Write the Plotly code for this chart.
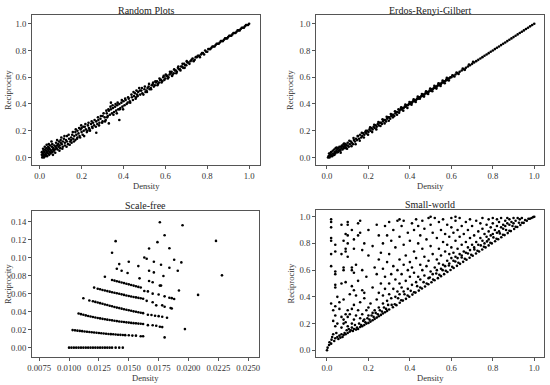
import plotly.graph_objects as go

# ---------------- data ----------------
random_pts = [
    (0.01,0.02),(0.01,0.04),(0.012,0.0),(0.015,0.03),(0.015,0.01),(0.018,0.05),(0.02,0.02),(0.02,0.0),
    (0.022,0.04),(0.025,0.06),(0.025,0.01),(0.028,0.03),(0.03,0.05),(0.03,0.02),(0.032,0.07),(0.035,0.04),
    (0.035,0.01),(0.038,0.06),(0.04,0.03),(0.04,0.08),(0.042,0.05),(0.045,0.02),(0.045,0.07),(0.048,0.04),
    (0.05,0.09),(0.05,0.06),(0.052,0.03),(0.055,0.05),(0.058,0.08),(0.06,0.04),(0.06,0.1),(0.062,0.06),
    (0.065,0.07),(0.068,0.05),(0.07,0.09),(0.072,0.06),(0.075,0.08),(0.078,0.11),(0.08,0.07),(0.082,0.09),
    (0.085,0.06),(0.088,0.1),(0.09,0.08),(0.092,0.12),(0.095,0.09),(0.098,0.07),(0.1,0.11),(0.1,0.13),
    (0.105,0.1),(0.11,0.08),(0.11,0.12),(0.115,0.14),(0.12,0.11),(0.12,0.09),(0.125,0.13),(0.13,0.12),
    (0.13,0.16),(0.135,0.1),(0.14,0.14),(0.145,0.12),(0.15,0.15),(0.15,0.13),(0.155,0.17),(0.16,0.14),
    (0.165,0.16),(0.17,0.13),(0.17,0.19),(0.175,0.17),(0.18,0.15),(0.18,0.2),(0.185,0.18),(0.19,0.16),
    (0.195,0.21),(0.2,0.19),(0.2,0.22),(0.205,0.17),(0.21,0.2),(0.215,0.23),(0.22,0.21),(0.225,0.19),
    (0.23,0.24),(0.235,0.22),(0.24,0.2),(0.245,0.25),(0.25,0.23),(0.255,0.26),(0.26,0.24),(0.27,0.185),
    (0.27,0.27),(0.275,0.25),(0.28,0.28),(0.285,0.26),(0.29,0.29),(0.3,0.27),(0.3,0.31),(0.31,0.3),
    (0.315,0.28),(0.32,0.33),(0.325,0.31),(0.33,0.255),(0.33,0.35),(0.335,0.32),(0.34,0.41),(0.34,0.36),
    (0.345,0.33),(0.35,0.37),(0.355,0.34),(0.36,0.38),(0.365,0.35),(0.37,0.39),(0.375,0.36),(0.38,0.28),
    (0.38,0.4),(0.385,0.37),(0.39,0.41),(0.395,0.38),(0.4,0.42),(0.405,0.39),(0.41,0.43),(0.42,0.41),
    (0.425,0.44),(0.43,0.42),(0.44,0.45),(0.445,0.43),(0.45,0.46),(0.455,0.48),(0.46,0.45),(0.465,0.47),
    (0.47,0.49),(0.475,0.52),(0.48,0.47),(0.485,0.5),(0.49,0.48),(0.5,0.51),(0.505,0.49),(0.51,0.5),
    (0.515,0.52),(0.52,0.53),(0.525,0.51),(0.53,0.52),(0.535,0.54),(0.54,0.55),(0.545,0.53),(0.55,0.54),
    (0.555,0.56),(0.56,0.57),(0.565,0.55),(0.57,0.56),(0.575,0.58),(0.58,0.58),(0.585,0.57),(0.59,0.6),
    (0.595,0.58),(0.6,0.59),(0.605,0.61),(0.61,0.61),(0.615,0.6),(0.62,0.62),(0.625,0.63),(0.63,0.64),
    (0.635,0.62),(0.64,0.63),(0.645,0.65),(0.65,0.65),(0.655,0.64),(0.66,0.67),(0.665,0.66),(0.67,0.66),
    (0.675,0.68),(0.68,0.68),(0.685,0.67),(0.69,0.7),(0.695,0.69),(0.7,0.69),(0.705,0.71),(0.71,0.71),
    (0.715,0.7),(0.72,0.72),(0.725,0.73),(0.73,0.74),(0.735,0.72),(0.74,0.73),(0.745,0.75),(0.75,0.75),
    (0.755,0.76),(0.76,0.76),(0.765,0.75),(0.77,0.77),(0.775,0.78),(0.78,0.78),(0.785,0.77),(0.79,0.8),
    (0.795,0.79),(0.8,0.79),(0.805,0.81),(0.81,0.81),(0.815,0.81),(0.82,0.82),(0.825,0.83),(0.83,0.83),
    (0.835,0.83),(0.84,0.84),(0.845,0.85),(0.85,0.85),(0.855,0.85),(0.86,0.86),(0.865,0.87),(0.87,0.87),
    (0.875,0.87),(0.88,0.88),(0.885,0.89),(0.89,0.89),(0.895,0.89),(0.9,0.9),(0.905,0.91),(0.91,0.91),
    (0.915,0.91),(0.92,0.92),(0.925,0.93),(0.93,0.93),(0.935,0.93),(0.94,0.94),(0.945,0.95),(0.95,0.95),
    (0.955,0.95),(0.96,0.96),(0.965,0.97),(0.97,0.97),(0.975,0.97),(0.98,0.98),(0.985,0.99),(0.99,0.99),
    (0.995,0.99),(1.0,1.0),
    # extra scatter around the line
    (0.016,0.065),(0.024,0.08),(0.033,0.095),(0.043,0.1),(0.056,0.12),(0.063,0.02),(0.074,0.035),
    (0.083,0.13),(0.094,0.05),(0.103,0.15),(0.108,0.065),(0.118,0.16),(0.128,0.08),(0.138,0.17),
    (0.143,0.095),(0.152,0.11),(0.158,0.19),(0.163,0.12),(0.172,0.21),(0.178,0.14),(0.188,0.22),
    (0.193,0.15),(0.198,0.24),(0.208,0.23),(0.212,0.16),(0.218,0.25),(0.228,0.2),(0.233,0.26),
    (0.238,0.21),(0.248,0.27),(0.252,0.22),(0.262,0.28),(0.268,0.23),(0.278,0.3),(0.283,0.24),
    (0.292,0.31),(0.298,0.26),(0.305,0.33),(0.312,0.27),(0.318,0.35),(0.322,0.3),(0.328,0.36),
    (0.338,0.38),(0.348,0.39),(0.352,0.32),(0.362,0.4),(0.368,0.33),(0.372,0.41),(0.382,0.36),
    (0.392,0.43),(0.398,0.36),(0.408,0.44),(0.415,0.4),(0.422,0.45),(0.432,0.41),(0.438,0.47),
    (0.448,0.49),(0.458,0.44),(0.462,0.5),(0.468,0.46),(0.478,0.5),(0.488,0.52),(0.495,0.47),
    (0.502,0.53),(0.512,0.49),(0.522,0.55),(0.532,0.51),(0.542,0.56),(0.552,0.57),(0.562,0.54),
    (0.572,0.59),(0.582,0.56),(0.592,0.61),(0.602,0.62),(0.612,0.59),(0.622,0.64),(0.632,0.61),
    (0.642,0.66),(0.652,0.63),(0.662,0.68),(0.672,0.65),(0.682,0.7),(0.692,0.67),(0.702,0.72),
]

erg_pts = [
    (0.005,0.0),(0.008,0.01),(0.01,0.03),(0.012,0.0),(0.015,0.02),(0.018,0.01),(0.02,0.04),(0.022,0.02),
    (0.025,0.01),(0.028,0.05),(0.03,0.03),(0.032,0.02),(0.035,0.06),(0.038,0.04),(0.04,0.03),(0.042,0.07),
    (0.045,0.05),(0.048,0.04),(0.05,0.06),(0.052,0.04),(0.055,0.07),(0.058,0.05),(0.06,0.08),(0.062,0.06),
    (0.065,0.05),(0.068,0.08),(0.07,0.07),(0.072,0.09),(0.075,0.06),(0.078,0.08),(0.08,0.1),(0.082,0.07),
    (0.085,0.09),(0.088,0.08),(0.09,0.1),(0.092,0.07),(0.095,0.09),(0.1,0.11),(0.1,0.09),(0.105,0.08),
    (0.11,0.1),(0.115,0.12),(0.12,0.11),(0.125,0.1),(0.13,0.13),(0.135,0.12),(0.14,0.14),(0.145,0.13),
    (0.15,0.16),(0.155,0.14),(0.16,0.17),(0.165,0.15),(0.17,0.16),(0.175,0.18),(0.18,0.17),(0.185,0.19),
    (0.19,0.18),(0.195,0.2),(0.2,0.19),(0.205,0.21),(0.21,0.2),(0.215,0.22),(0.22,0.21),(0.225,0.23),
    (0.23,0.22),(0.235,0.24),(0.24,0.23),(0.245,0.25),(0.25,0.24),(0.255,0.26),(0.26,0.26),(0.265,0.25),
    (0.27,0.27),(0.275,0.28),(0.28,0.28),(0.285,0.27),(0.29,0.29),(0.295,0.3),(0.3,0.3),(0.305,0.29),
    (0.31,0.31),(0.315,0.32),(0.32,0.32),(0.325,0.31),(0.33,0.33),(0.335,0.34),(0.34,0.34),(0.345,0.36),
    (0.35,0.35),(0.355,0.36),(0.36,0.36),(0.365,0.37),(0.37,0.37),(0.375,0.38),(0.38,0.38),(0.385,0.39),
    (0.39,0.39),(0.395,0.4),(0.4,0.4),(0.405,0.41),(0.41,0.41),(0.415,0.42),(0.42,0.42),(0.425,0.43),
    (0.43,0.43),(0.435,0.44),(0.44,0.44),(0.445,0.45),(0.45,0.45),(0.455,0.46),(0.46,0.46),(0.465,0.47),
    (0.47,0.47),(0.475,0.48),(0.48,0.48),(0.485,0.49),(0.49,0.49),(0.495,0.5),(0.5,0.5),(0.505,0.51),
    (0.51,0.51),(0.515,0.52),(0.52,0.52),(0.525,0.53),(0.53,0.53),(0.535,0.54),(0.54,0.54),(0.545,0.55),
    (0.55,0.55),(0.555,0.56),(0.56,0.56),(0.565,0.57),(0.57,0.57),(0.575,0.58),(0.58,0.58),(0.585,0.59),
    (0.59,0.59),(0.595,0.6),(0.6,0.6),(0.61,0.61),(0.62,0.62),(0.63,0.63),(0.64,0.64),(0.65,0.65),
    (0.66,0.66),(0.67,0.67),(0.68,0.68),(0.69,0.69),(0.7,0.7),(0.71,0.71),(0.72,0.72),(0.73,0.73),
    (0.74,0.74),(0.75,0.75),(0.76,0.76),(0.77,0.77),(0.78,0.78),(0.79,0.79),(0.8,0.8),(0.81,0.81),
    (0.82,0.82),(0.83,0.83),(0.84,0.84),(0.85,0.85),(0.86,0.86),(0.87,0.87),(0.88,0.88),(0.89,0.89),
    (0.9,0.9),(0.91,0.91),(0.92,0.92),(0.93,0.93),(0.94,0.94),(0.95,0.95),(0.96,0.96),(0.97,0.97),
    (0.98,0.98),(0.99,0.99),(1.0,1.0),
    # extra scatter around the line
    (0.018,0.035),(0.036,0.02),(0.047,0.075),(0.066,0.035),(0.083,0.105),(0.097,0.065),(0.108,0.125),
    (0.118,0.085),(0.128,0.145),(0.138,0.1),(0.148,0.16),(0.158,0.125),(0.168,0.185),(0.178,0.15),
    (0.188,0.2),(0.198,0.17),(0.208,0.225),(0.218,0.19),(0.228,0.245),(0.238,0.21),(0.248,0.265),
    (0.258,0.235),(0.268,0.285),(0.278,0.255),(0.288,0.305),(0.298,0.275),(0.308,0.325),(0.318,0.3),
    (0.328,0.345),(0.338,0.32),(0.348,0.335),(0.358,0.375),(0.368,0.35),(0.378,0.395),(0.388,0.37),
    (0.398,0.415),(0.408,0.395),(0.418,0.435),(0.428,0.415),(0.438,0.455),(0.448,0.44),(0.458,0.475),
    (0.468,0.455),(0.478,0.495),(0.488,0.475),(0.498,0.515),(0.508,0.495),(0.518,0.535),(0.528,0.515),
    (0.538,0.555),(0.548,0.535),(0.558,0.575),(0.568,0.555),(0.578,0.595),(0.588,0.575),(0.605,0.615),
    (0.615,0.605),(0.625,0.635),(0.635,0.625),(0.655,0.665),(0.665,0.655),(0.685,0.695),(0.705,0.715),
]

sf_pts = [
    # band at zero reciprocity
    (0.0100,0.0),(0.0102,0.0),(0.0104,0.0),(0.0106,0.0),(0.0108,0.0),(0.0110,0.0),(0.0112,0.0),(0.0114,0.0),
    (0.0116,0.0),(0.0118,0.0),(0.0120,0.0),(0.0122,0.0),(0.0124,0.0),(0.0126,0.0),(0.0128,0.0),(0.0130,0.0),
    (0.0132,0.0),(0.0134,0.0),(0.0136,0.0),(0.0139,0.0),(0.0142,0.0),(0.0145,0.0),
    # band near 0.02
    (0.0103,0.0195),(0.0105,0.0192),(0.0107,0.0189),(0.0109,0.0186),(0.0111,0.0183),(0.0113,0.0180),
    (0.0115,0.0177),(0.0117,0.0174),(0.0119,0.0171),(0.0121,0.0168),(0.0123,0.0165),(0.0125,0.0162),
    (0.0127,0.0160),(0.0129,0.0157),(0.0131,0.0155),(0.0133,0.0152),(0.0135,0.0150),(0.0137,0.0148),
    (0.0139,0.0146),(0.0141,0.0144),(0.0143,0.0142),(0.0145,0.0140),(0.0147,0.0139),(0.0150,0.0137),
    (0.0153,0.0134),(0.0156,0.0133),(0.0160,0.0127),(0.0162,0.0127),
    # band near 0.038
    (0.0108,0.0379),(0.0110,0.0372),(0.0112,0.0365),(0.0114,0.0358),(0.0116,0.0352),(0.0118,0.0346),
    (0.0120,0.0340),(0.0122,0.0335),(0.0124,0.0330),(0.0126,0.0325),(0.0128,0.0320),(0.0130,0.0315),
    (0.0132,0.0311),(0.0134,0.0307),(0.0136,0.0303),(0.0138,0.0299),(0.0140,0.0295),(0.0142,0.0291),
    (0.0144,0.0288),(0.0146,0.0285),(0.0148,0.0281),(0.0150,0.0278),(0.0152,0.0275),(0.0154,0.0272),
    (0.0156,0.0270),(0.0158,0.0267),(0.0160,0.0265),(0.0162,0.0262),(0.0166,0.0250),(0.0170,0.0248),
    (0.0173,0.0243),(0.0176,0.0232),(0.0178,0.0228),
    # band near 0.052
    (0.0112,0.0549),(0.0117,0.0523),(0.0120,0.0515),(0.0122,0.0508),(0.0124,0.0501),(0.0126,0.0494),
    (0.0128,0.0487),(0.0130,0.0480),(0.0132,0.0473),(0.0134,0.0466),(0.0136,0.0459),(0.0138,0.0452),
    (0.0140,0.0445),(0.0142,0.0439),(0.0144,0.0433),(0.0146,0.0427),(0.0148,0.0421),(0.0150,0.0415),
    (0.0152,0.0409),(0.0154,0.0403),(0.0156,0.0398),(0.0158,0.0393),(0.0160,0.0388),(0.0162,0.0383),
    (0.0166,0.0365),(0.0169,0.0362),(0.0172,0.0355),(0.0175,0.0350),(0.0178,0.0343),(0.0182,0.0332),
    # band near 0.066
    (0.0121,0.0667),(0.0124,0.0655),(0.0126,0.0648),(0.0128,0.0641),(0.0130,0.0634),(0.0132,0.0628),
    (0.0134,0.0622),(0.0136,0.0616),(0.0138,0.0610),(0.0140,0.0604),(0.0142,0.0598),(0.0144,0.0592),
    (0.0146,0.0586),(0.0148,0.0580),(0.0150,0.0574),(0.0152,0.0568),(0.0154,0.0563),(0.0156,0.0558),
    (0.0158,0.0553),(0.0160,0.0548),(0.0162,0.0543),(0.0165,0.0520),(0.0170,0.0505),(0.0173,0.0470),
    (0.0178,0.0470),(0.0180,0.0455),(0.0185,0.0440),(0.0186,0.0435),
    # band near 0.075
    (0.0136,0.0752),(0.0138,0.0745),(0.0140,0.0738),(0.0142,0.0731),(0.0144,0.0724),(0.0146,0.0717),
    (0.0148,0.0710),(0.0150,0.0703),(0.0152,0.0696),(0.0154,0.0689),(0.0156,0.0682),(0.0158,0.0675),
    (0.0160,0.0668),(0.0163,0.0630),(0.0166,0.0625),(0.0170,0.0600),(0.0175,0.0590),(0.0180,0.0570),
    (0.0184,0.0555),(0.0186,0.0550),(0.0188,0.0540),
    # scattered points
    (0.0176,0.1393),(0.0195,0.1359),(0.0180,0.1249),(0.0139,0.1183),(0.0223,0.1186),(0.0174,0.1172),
    (0.0184,0.1105),(0.0167,0.1102),(0.0136,0.1054),(0.0188,0.0976),(0.0163,0.1002),(0.0165,0.0987),
    (0.0150,0.0954),(0.0171,0.0954),(0.0194,0.0947),(0.0142,0.0928),(0.0158,0.0906),(0.0177,0.0921),
    (0.0140,0.0877),(0.0144,0.0855),(0.0149,0.0829),(0.0167,0.0855),(0.0171,0.0836),(0.0184,0.0888),
    (0.0191,0.0855),(0.0228,0.0803),(0.0130,0.0788),(0.0159,0.0770),(0.0167,0.0741),(0.0170,0.0726),
    (0.0179,0.0796),(0.0176,0.0689),(0.0177,0.0689),(0.0192,0.0634),(0.0208,0.0586),(0.0197,0.0206),
    (0.0180,0.0114),
]

# small-world: points hugging the diagonal lower edge
sw_edge_pts = [
    (0.0,0.0),(0.003,0.02),(0.01,0.04),(0.012,0.06),(0.02,0.05),(0.022,0.08),(0.025,0.1),(0.03,0.12),
    (0.035,0.07),(0.04,0.09),(0.045,0.13),(0.05,0.1),(0.055,0.085),(0.06,0.11),(0.065,0.095),(0.07,0.12),
    (0.075,0.1),(0.08,0.115),(0.085,0.13),(0.09,0.12),(0.095,0.15),(0.1,0.13),(0.105,0.16),(0.11,0.14),
    (0.115,0.15),(0.12,0.17),(0.125,0.145),(0.13,0.16),(0.135,0.19),(0.14,0.155),(0.145,0.17),(0.15,0.16),
    (0.155,0.2),(0.16,0.175),(0.165,0.19),(0.17,0.18),(0.175,0.22),(0.18,0.19),(0.185,0.21),(0.19,0.2),
    (0.195,0.24),(0.2,0.205),(0.205,0.23),(0.21,0.215),(0.215,0.26),(0.22,0.225),(0.225,0.25),(0.23,0.235),
    (0.235,0.28),(0.24,0.245),(0.245,0.27),(0.25,0.255),(0.255,0.3),(0.26,0.265),(0.265,0.29),(0.27,0.275),
    (0.275,0.32),(0.28,0.285),(0.285,0.31),(0.29,0.295),(0.295,0.34),
    (0.3,0.305),(0.312,0.34),(0.318,0.322),(0.327,0.345),(0.335,0.338),(0.343,0.39),(0.351,0.356),
    (0.358,0.375),(0.366,0.372),(0.374,0.42),(0.381,0.385),(0.389,0.41),(0.397,0.401),(0.404,0.445),
    (0.412,0.417),(0.42,0.435),(0.427,0.432),(0.435,0.48),(0.443,0.447),(0.45,0.47),(0.458,0.463),
    (0.466,0.51),(0.473,0.478),(0.481,0.5),(0.489,0.494),(0.496,0.545),(0.504,0.509),(0.512,0.53),
    (0.519,0.524),(0.527,0.575),(0.535,0.54),(0.542,0.565),(0.55,0.555),(0.558,0.6),(0.565,0.57),
    (0.573,0.595),(0.581,0.586),(0.588,0.635),(0.596,0.601),(0.604,0.625),(0.611,0.616),(0.619,0.665),
    (0.627,0.632),(0.634,0.655),(0.642,0.647),(0.65,0.695),(0.657,0.662),(0.665,0.685),(0.673,0.678),
    (0.68,0.725),(0.688,0.693),(0.696,0.715),(0.703,0.708),(0.711,0.755),(0.719,0.724),(0.726,0.745),
    (0.734,0.739),(0.742,0.785),(0.749,0.754),(0.757,0.775),(0.765,0.77),(0.772,0.815),(0.78,0.785),
    (0.788,0.805),(0.795,0.8),(0.803,0.845),(0.811,0.816),(0.818,0.835),(0.826,0.831),(0.834,0.875),
    (0.841,0.846),(0.849,0.865),(0.857,0.862),(0.864,0.9),(0.872,0.877),(0.88,0.895),(0.887,0.892),
    (0.895,0.93),(0.903,0.908),(0.91,0.925),(0.918,0.923),(0.926,0.955),(0.933,0.938),(0.941,0.955),
    (0.949,0.954),(0.956,0.975),(0.964,0.969),(0.972,0.985),(0.979,0.984),(0.987,0.99),(0.995,0.997),
    (1.0,1.0),
]

# small-world: points scattered above the diagonal
sw_upper_pts = [
    (0.02,0.35),(0.02,0.63),(0.02,0.72),(0.02,0.82),(0.02,0.84),(0.02,0.92),(0.02,0.96),(0.02,0.98),
    (0.03,0.22),(0.03,0.3),(0.04,0.18),(0.04,0.26),(0.04,0.33),(0.04,0.47),(0.04,0.49),(0.04,0.57),
    (0.04,0.59),(0.04,0.74),(0.04,0.79),(0.05,0.2),(0.05,0.4),(0.06,0.31),(0.06,0.36),(0.07,0.17),
    (0.07,0.25),(0.07,0.5),(0.07,0.72),(0.07,0.94),(0.08,0.2),(0.08,0.23),(0.08,0.38),(0.08,0.6),
    (0.08,0.62),(0.08,0.82),(0.09,0.21),(0.09,0.27),(0.09,0.51),(0.09,0.74),(0.09,0.76),(0.09,0.87),
    (0.1,0.18),(0.1,0.25),(0.1,0.3),(0.1,0.7),(0.1,0.8),(0.1,0.86),(0.1,0.94),(0.1,0.96),
    (0.11,0.27),(0.11,0.42),(0.12,0.2),(0.12,0.31),(0.12,0.48),(0.12,0.6),(0.12,0.62),(0.12,0.9),
    (0.13,0.23),(0.13,0.34),(0.13,0.45),(0.13,0.58),(0.13,0.76),(0.13,0.83),(0.14,0.26),(0.14,0.41),
    (0.14,0.64),(0.15,0.3),(0.15,0.52),(0.15,0.86),(0.15,0.95),(0.16,0.24),(0.16,0.36),(0.16,0.88),
    (0.16,0.97),(0.17,0.27),(0.17,0.45),(0.17,0.6),(0.17,0.75),(0.18,0.23),(0.18,0.39),(0.18,0.43),
    (0.18,0.8),(0.19,0.3),(0.19,0.55),(0.2,0.26),(0.2,0.32),(0.2,0.71),(0.2,0.9),
    (0.21,0.35),(0.22,0.28),(0.22,0.47),(0.22,0.78),(0.23,0.3),(0.23,0.62),(0.24,0.38),(0.24,0.57),
    (0.24,0.94),(0.25,0.32),(0.25,0.43),(0.25,0.68),(0.25,0.86),(0.26,0.5),(0.26,0.73),(0.27,0.35),
    (0.27,0.41),(0.27,0.61),(0.27,0.8),(0.28,0.46),(0.28,0.55),(0.28,0.93),(0.29,0.37),(0.29,0.66),
    (0.29,0.86),(0.3,0.42),(0.3,0.5),(0.3,0.72),(0.3,0.96),
    (0.31,0.39),(0.31,0.57),(0.31,0.82),(0.32,0.46),(0.32,0.63),(0.32,0.9),(0.33,0.4),(0.33,0.53),
    (0.33,0.77),(0.34,0.44),(0.34,0.6),(0.34,0.97),(0.35,0.42),(0.35,0.5),(0.35,0.68),(0.35,0.85),
    (0.35,0.98),(0.36,0.47),(0.36,0.57),(0.36,0.93),(0.37,0.44),(0.37,0.64),(0.37,0.79),(0.37,0.97),
    (0.38,0.52),(0.38,0.71),(0.39,0.46),(0.39,0.6),(0.39,0.88),(0.4,0.55),(0.4,0.66),(0.4,0.82),
    (0.41,0.49),(0.41,0.62),(0.41,0.95),(0.42,0.58),(0.42,0.74),(0.42,0.9),(0.43,0.51),(0.43,0.69),
    (0.43,0.98),(0.44,0.55),(0.44,0.8),(0.44,0.93),(0.45,0.53),(0.45,0.64),(0.45,0.86),(0.46,0.6),
    (0.46,0.76),(0.46,0.97),(0.47,0.56),(0.47,0.7),(0.47,0.91),(0.48,0.63),(0.48,0.83),(0.49,0.54),
    (0.49,0.67),(0.49,0.99),(0.5,0.59),(0.5,0.78),(0.5,0.94),(0.5,1.0),
    (0.51,0.57),(0.51,0.72),(0.51,0.88),(0.52,0.62),(0.52,0.99),(0.53,0.6),(0.53,0.68),(0.53,0.84),
    (0.54,0.65),(0.54,0.76),(0.54,0.96),(0.55,0.61),(0.55,0.71),(0.55,0.9),(0.56,0.64),(0.56,0.81),
    (0.56,0.98),(0.57,0.63),(0.57,0.74),(0.57,0.87),(0.58,0.67),(0.58,0.79),(0.58,0.94),(0.59,0.65),
    (0.59,0.72),(0.59,0.85),(0.6,0.69),(0.6,0.77),(0.6,0.92),(0.6,0.99),
    (0.61,0.67),(0.61,0.73),(0.61,0.88),(0.62,0.7),(0.62,0.82),(0.62,0.97),(0.62,1.0),(0.63,0.69),
    (0.63,0.76),(0.63,0.9),(0.64,0.72),(0.64,0.85),(0.64,0.99),(0.65,0.71),(0.65,0.79),(0.65,0.93),
    (0.66,0.74),(0.66,0.87),(0.67,0.73),(0.67,0.81),(0.67,0.96),(0.68,0.77),(0.68,0.9),(0.69,0.75),
    (0.69,0.84),(0.69,0.98),(0.7,0.79),(0.7,0.93),
    (0.71,0.77),(0.71,0.86),(0.72,0.81),(0.72,0.97),(0.73,0.79),(0.73,0.89),(0.74,0.84),(0.74,0.95),
    (0.75,0.82),(0.75,0.91),(0.75,0.99),(0.76,0.8),(0.76,0.87),(0.77,0.85),(0.77,0.94),(0.78,0.83),
    (0.78,0.89),(0.78,0.98),(0.79,0.86),(0.79,0.92),(0.8,0.87),(0.8,0.95),(0.8,0.99),
    (0.81,0.9),(0.82,0.88),(0.82,0.93),(0.82,0.98),(0.83,0.89),(0.83,0.96),(0.84,0.92),(0.84,0.99),
    (0.85,0.91),(0.85,0.94),(0.86,0.93),(0.86,0.97),(0.87,0.95),(0.87,0.99),(0.88,0.94),(0.88,0.98),
    (0.89,0.96),(0.9,0.95),(0.9,0.99),(0.91,0.97),(0.92,0.99),(0.93,0.98),(0.94,0.99),
]

titles = ["Random Plots", "Erdos-Renyi-Gilbert", "Scale-free", "Small-world"]
x_label = "Density"
y_label = "Reciprocity"
unit_ticks = [0.0, 0.2, 0.4, 0.6, 0.8, 1.0]
sf_xticks = [0.0075, 0.0100, 0.0125, 0.0150, 0.0175, 0.0200, 0.0225, 0.0250]
sf_yticks = [0.00, 0.02, 0.04, 0.06, 0.08, 0.10, 0.12, 0.14]

# ---------------- figure ----------------
W, H = 550, 385
FONT = "Liberation Serif, Times New Roman, serif"
FRAME = "#555555"

panels = [
    (random_pts, "", (32, 260), (15, 165), [-0.037, 1.052], [-0.056, 1.065], unit_ticks, unit_ticks, ".1f", ".1f"),
    (erg_pts, "2", (316, 544), (15, 165), [-0.053, 1.047], [-0.056, 1.065], unit_ticks, unit_ticks, ".1f", ".1f"),
    (sf_pts, "3", (32, 259), (211, 357), [0.0069, 0.0259], [-0.0104, 0.1518], sf_xticks, sf_yticks, ".4f", ".2f"),
    (sw_edge_pts + sw_upper_pts, "4", (316, 544), (210, 357), [-0.053, 1.047], [-0.05, 1.05], unit_ticks, unit_ticks, ".1f", ".1f"),
]

fig = go.Figure()
annotations = []
for i, (pts, suf, (x0, x1), (yt, yb), xr, yr, xt, yt_ticks, fx, fy) in enumerate(panels):
    xs = [p[0] for p in pts]
    ys = [p[1] for p in pts]
    fig.add_trace(go.Scatter(
        x=xs, y=ys, mode="markers",
        marker=dict(color="black", size=2.6, line=dict(width=0)),
        xaxis="x" + suf, yaxis="y" + suf, showlegend=False, hoverinfo="skip",
        cliponaxis=False,
    ))
    axis_common = dict(
        showgrid=False, zeroline=False, showline=True, mirror=True,
        linecolor=FRAME, linewidth=1, ticks="outside", ticklen=3, tickwidth=1,
        tickcolor=FRAME, tickfont=dict(family=FONT, size=8.7, color="#333333"),
        automargin=False,
    )
    fig.update_layout(**{
        "xaxis" + suf: dict(axis_common, domain=[x0 / W, x1 / W], range=xr,
                            tickvals=xt, tickformat=fx, anchor="y" + suf),
        "yaxis" + suf: dict(axis_common, domain=[1 - yb / H, 1 - yt / H], range=yr,
                            tickvals=yt_ticks, tickformat=fy, anchor="x" + suf),
    })
    cx = (x0 + x1) / 2
    annotations.append(dict(text=titles[i], x=cx / W, y=1 - (yt - 5) / H, xref="paper", yref="paper",
                            xanchor="center", yanchor="middle", showarrow=False,
                            font=dict(family=FONT, size=10, color="#222222")))
    annotations.append(dict(text=x_label, x=cx / W, y=1 - (yb + 21) / H, xref="paper", yref="paper",
                            xanchor="center", yanchor="middle", showarrow=False,
                            font=dict(family=FONT, size=8.5, color="#333333")))
    annotations.append(dict(text=y_label, x=(x0 - 24 if i % 2 == 0 else x0 - 26) / W,
                            y=1 - ((yt + yb) / 2) / H, xref="paper", yref="paper",
                            xanchor="center", yanchor="middle", textangle=-90, showarrow=False,
                            font=dict(family=FONT, size=8.5, color="#333333")))

fig.update_layout(
    width=W, height=H, margin=dict(l=0, r=0, t=0, b=0, autoexpand=False),
    paper_bgcolor="white", plot_bgcolor="white",
    annotations=annotations,
)

fig.write_html("out.html", config={"displayModeBar": False},
               post_script="document.body.style.margin='0';document.body.style.padding='0';")
